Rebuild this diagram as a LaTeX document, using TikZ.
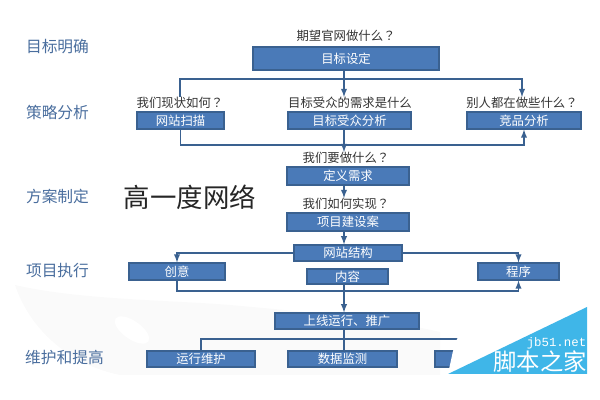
\documentclass[tikz,border=0pt]{standalone}
\usepackage{fontspec}
\setmainfont{Noto Sans CJK SC}
\newfontfamily\monofont{Liberation Mono}
\newfontfamily\askmark{Noto Sans CJK TC}
\newcommand{\qm}{{\askmark ？}}
\begin{document}
\begin{tikzpicture}[x=0.025cm,y=-0.025cm,>=latex]
\tikzstyle{bbox}=[rectangle,draw=boxline,fill=boxblue,text=white,line width=0.9pt,inner sep=0pt,minimum height=0.42cm,minimum width=#1 cm,font=\fontsize{8.8pt}{10pt}\selectfont]
\tikzstyle{ask}=[inner sep=0pt,text=black!80,font=\fontsize{8.8pt}{10pt}\selectfont]
\tikzstyle{stage}=[inner sep=0pt,text=stageblue,font=\fontsize{11.2pt}{13pt}\selectfont]
\tikzstyle{link}=[draw=boxline,line width=1pt]
\definecolor{boxblue}{HTML}{4A7AB8}
\definecolor{boxline}{HTML}{3A6190}
\definecolor{stageblue}{HTML}{4A6E9E}
\definecolor{siteblue}{HTML}{3FB6E8}
\definecolor{swoosh}{HTML}{FAFAFA}
\useasboundingbox (0,0) rectangle (600,400);
\fill[swoosh] (15,285) .. controls (80,300) and (170,300) .. (230,305) .. controls (310,312) and (390,320) .. (440,332) -- (440,375) -- (120,375) .. controls (70,365) and (30,330) .. (15,285);
\fill[white,rotate around={-35:(132,330)}] (132,330) ellipse (20 and 9);
\node[stage](s1) at (57.5,46.5) {目标明确};
\node[stage](s2) at (57.5,112.5) {策略分析};
\node[stage](s3) at (57.5,196) {方案制定};
\node[stage](s4) at (57.5,271) {项目执行};
\node[stage](s5) at (64.5,358) {维护和提高};
\node[inner sep=0pt,text=black!85,font=\fontsize{18.8pt}{22pt}\selectfont](brand) at (190,197) {高一度网络};

\node[ask](goalq) at (346,36) {期望官网做什么\qm};
\node[bbox=4.65,minimum height=0.575cm](goal) at (346,58.5) {目标设定};
\node[ask](scanq) at (180,103) {我们现状如何\qm};
\node[bbox=2.175](scan) at (180.5,120.5) {网站扫描};
\node[ask](audq) at (350,103) {目标受众的需求是什么};
\node[bbox=3.075](aud) at (349.5,120.5) {目标受众分析};
\node[ask](compq) at (522,103) {别人都在做些什么\qm};
\node[bbox=2.85](comp) at (524,120.5) {竞品分析};
\node[ask](defq) at (346,158) {我们要做什么\qm};
\node[bbox=3.05,minimum height=0.45cm](def) at (348,176) {定义需求};
\node[ask](planq) at (346,204) {我们如何实现\qm};
\node[bbox=3.05,minimum height=0.45cm](plan) at (348,222) {项目建设案};
\node[bbox=2.7,minimum height=0.4cm](struct) at (348,253) {网站结构};
\node[bbox=2.025,minimum height=0.375cm](cont) at (347.5,276.5) {内容};
\node[bbox=2.4](idea) at (177,271.5) {创意};
\node[bbox=2.025](prog) at (518.5,271.5) {程序};
\node[bbox=3.6,minimum height=0.4cm](online) at (347,321) {上线运行、推广};
\node[bbox=2.7,minimum height=0.4cm](ops) at (201,359) {运行维护};
\node[bbox=2.725,minimum height=0.4cm](data) at (342.5,359) {数据监测};
\node[bbox=1.6,minimum height=0.4cm](hid) at (467,359) {};

\coordinate (up) at (344,79);
\coordinate (bot) at (344,145);
\coordinate (low) at (344,291);
\coordinate (br) at (344,339);

\draw[link,->] (goal.south -| up) -- (audq.north -| up);
\draw[link] (scanq.north) |- (up);
\draw[link,->] (up) -| (compq.north);
\draw[link,->] (scan.south) |- (bot) -| (comp.south);
\draw[link,->] (aud.south -| up) -- (defq.north -| up);
\draw[link,->] (def.south -| up) -- (planq.north -| up);
\draw[link,->] (plan.south -| up) -- (struct.north -| up);
\draw[link,->] (struct.west) -| (idea.north);
\draw[link,->] (struct.east) -| (prog.north);
\draw[link,->] (idea.south) |- (low) -| (prog.south);
\draw[link,->] (cont.south -| up) -- (online.north -| up);
\draw[link] (online.south -| up) -- (data.north -| up);
\draw[link] (ops.north) |- (br) -| (hid.north);

\fill[white] (448,374) -- (453,351) -- (457,339) -- (465,330) -- (500,322) -- (587,307) -- (587,374) -- cycle;
\fill[siteblue] (587,307) -- (587,374) -- (448,374) -- cycle;
\node[inner sep=0pt,text=white,font=\monofont\fontsize{8.8pt}{10pt}\selectfont](site) at (556.5,343) {jb51.net};
\node[inner sep=0pt,text=white,font=\fontsize{16.6pt}{19pt}\selectfont](sitename) at (540,362) {脚本之家};
\end{tikzpicture}
\end{document}
